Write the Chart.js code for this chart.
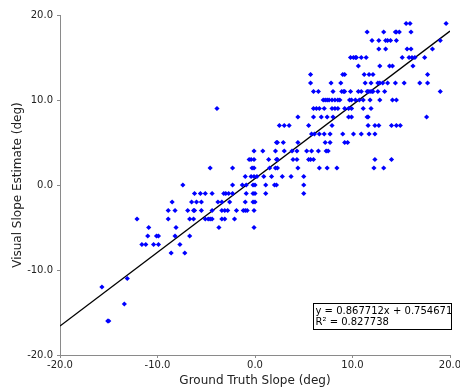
<!DOCTYPE html>
<html lang="en">
<head>
<meta charset="UTF-8">
<title>Visual Slope Estimate vs Ground Truth</title>
<script src="https://cdn.jsdelivr.net/npm/chart.js@4"></script>
<style>
  html, body { margin: 0; padding: 0; background: #fff; }
  #wrap { width: 460px; height: 390px; position: relative; }
</style>
</head>
<body>
<div id="wrap"><canvas id="scatter"></canvas></div>
<script>
// visual estimate levels (deg) and the ground truth slopes seen at each level
const estimateLevels = [19, 18, 17, 16, 15, 14, 13, 12, 11, 10, 9, 8, 7, 6, 5, 4, 3, 2, 1, 0,
                        -1, -2, -3, -4, -5, -6, -7, -8, -11, -12, -14, -16];
const truthAtLevel = [
  [15.5, 15.9, 19.6],
  [11.5, 13.2, 14.4, 14.5, 14.8, 16.0],
  [12.0, 12.7, 13.4, 13.6, 13.9, 14.5, 19.0],
  [12.7, 13.4, 15.6, 16.0, 18.2],
  [9.8, 10.1, 10.3, 10.4, 10.9, 11.4, 15.1, 15.8, 16.1, 16.4, 17.4],
  [10.6, 12.8, 13.8, 14.1, 16.2],
  [5.7, 9.0, 9.2, 11.2, 11.7, 12.1, 17.7],
  [5.7, 7.8, 8.8, 11.3, 11.9, 12.6, 12.8, 13.1, 13.6, 14.4, 15.3, 16.9, 17.7],
  [6.0, 6.5, 8.0, 8.9, 9.1, 9.2, 9.8, 10.6, 10.9, 11.5, 11.6, 11.8, 12.0, 12.1, 12.6, 13.3, 19.0],
  [7.0, 7.2, 7.4, 7.6, 7.9, 8.2, 8.5, 8.7, 9.7, 9.9, 10.3, 10.7, 11.1, 11.8, 12.8, 14.1, 14.5],
  [-3.9, 6.0, 6.3, 6.6, 7.1, 7.9, 8.2, 8.5, 9.2, 9.6, 9.9, 11.1, 11.9],
  [4.4, 6.0, 6.8, 7.4, 8.0, 9.6, 9.9, 11.5, 11.6, 17.6],
  [2.5, 3.0, 3.5, 5.5, 7.9, 11.6, 12.3, 12.7, 14.0, 14.5, 14.9],
  [5.8, 6.1, 6.6, 7.1, 7.7, 9.0, 10.1, 10.9, 11.7, 12.3],
  [2.2, 2.3, 2.9, 4.4, 7.2, 7.7, 9.2, 9.5],
  [-0.1, 0.8, 2.1, 3.0, 3.8, 4.3, 5.3, 5.8, 6.5, 7.3, 7.5],
  [-0.6, -0.4, -0.1, 1.4, 2.2, 2.3, 3.9, 4.3, 5.5, 5.7, 6.0, 12.3, 14.0],
  [-4.6, -2.3, -0.3, -0.1, 1.5, 2.1, 2.3, 4.4, 6.6, 7.4, 8.4, 12.2, 13.2],
  [-1.0, -0.4, -0.1, 0.2, 0.9, 1.7, 2.8, 3.7, 5.0],
  [-7.4, -2.3, -1.3, -0.9, -0.2, 0.0, 1.1, 2.0, 2.2, 5.0],
  [-6.2, -5.6, -5.1, -4.4, -3.2, -3.0, -2.7, -2.3, -0.9, -0.2, 0.0, 1.1, 5.0],
  [-8.5, -6.5, -6.0, -5.5, -3.8, -3.4, -2.6, -1.0, -0.2, 0.0],
  [-8.9, -8.2, -6.9, -6.3, -6.2, -5.5, -4.4, -3.4, -3.1, -2.8, -1.9, -1.2, -1.0, -0.8, -0.1],
  [-12.1, -8.9, -6.7, -6.3, -5.1, -4.8, -4.6, -4.4, -3.4, -3.1, -2.1],
  [-10.9, -8.1, -3.7, -0.1],
  [-11.0, -10.1, -9.9, -8.2, -6.7],
  [-11.6, -11.2, -10.4, -9.9, -7.7],
  [-8.6, -7.2],
  [-13.1],
  [-15.7],
  [-13.4],
  [-15.1, -15.0]
];

// least squares fit shown in the box
const fitSlope = 0.867712;
const fitIntercept = 0.754671;
const fitR2 = 0.827738;
const axisTicks = [-20, -10, 0, 10, 20];

let points = [];
for (let i = 0; i < estimateLevels.length; i++) {
  for (let j = 0; j < truthAtLevel[i].length; j++) {
    points.push({x: truthAtLevel[i][j], y: estimateLevels[i]});
  }
}

const xMin = axisTicks[0], xMax = axisTicks[axisTicks.length - 1];
const fitLine = [
  {x: xMin, y: fitSlope * xMin + fitIntercept},
  {x: xMax, y: fitSlope * xMax + fitIntercept}
];

const axisGray = '#8a8a8a';
const textColor = '#222';
const font = 'DejaVu Sans';

// equation box in the lower right corner
const fitBox = {
  id: 'fitBox',
  afterDraw(chart) {
    const ctx = chart.ctx;
    const a = chart.chartArea;
    const w = 138, h = 26;
    const left = a.right - w + 1.5, top = a.bottom - 52 + 0.5;
    ctx.save();
    ctx.fillStyle = '#fff';
    ctx.fillRect(left, top, w, h);
    ctx.strokeStyle = '#000';
    ctx.lineWidth = 1;
    ctx.strokeRect(left, top, w, h);
    ctx.fillStyle = '#000';
    ctx.font = '10px "' + font + '"';
    ctx.textBaseline = 'middle';
    ctx.textAlign = 'left';
    ctx.fillText('y = ' + fitSlope.toFixed(6) + 'x + ' + fitIntercept.toFixed(6), left + 2, top + 8);
    ctx.fillText('R\u00B2 = ' + fitR2.toFixed(6), left + 2, top + 19);
    ctx.restore();
  }
};

function fixedTicks(scale) {
  scale.ticks = axisTicks.map(v => ({value: v}));
}

new Chart(document.getElementById('scatter'), {
  type: 'scatter',
  data: {
    datasets: [{
      label: 'samples',
      data: points,
      pointStyle: 'rectRot',
      pointRadius: 2.6,
      pointHoverRadius: 2.6,
      backgroundColor: '#0000ff',
      borderColor: '#0000ff',
      borderWidth: 0
    }, {
      type: 'line',
      label: 'fit',
      data: fitLine,
      borderColor: '#000',
      borderWidth: 1.3,
      pointRadius: 0,
      fill: false
    }]
  },
  options: {
    responsive: true,
    maintainAspectRatio: false,
    animation: false,
    devicePixelRatio: 1,
    layout: {padding: {top: 15, right: 10, left: 0, bottom: 0}},
    plugins: {legend: {display: false}, tooltip: {enabled: false}},
    scales: {
      x: {
        type: 'linear',
        min: -20, max: 20,
        afterBuildTicks: fixedTicks,
        afterFit(scale) { scale.height = 35; scale.paddingLeft = 0; scale.paddingRight = 0; },
        grid: {drawOnChartArea: false, drawTicks: true, tickLength: 3, color: axisGray},
        border: {display: true, color: axisGray, width: 1},
        ticks: {
          padding: 1, maxRotation: 0, autoSkip: false, color: textColor,
          font: {family: font, size: 10},
          callback: v => v.toFixed(1)
        },
        title: {display: true, text: 'Ground Truth Slope (deg)', color: textColor,
                font: {family: font, size: 12}, padding: {top: 0, bottom: 2}}
      },
      y: {
        type: 'linear',
        min: -20, max: 20,
        afterBuildTicks: fixedTicks,
        afterFit(scale) { scale.width = 60; scale.paddingTop = 0; scale.paddingBottom = 0; },
        grid: {drawOnChartArea: false, drawTicks: true, tickLength: 3, color: axisGray},
        border: {display: true, color: axisGray, width: 1},
        ticks: {
          padding: 4, autoSkip: false, color: textColor,
          font: {family: font, size: 10},
          callback: v => v.toFixed(1)
        },
        title: {display: true, text: 'Visual Slope Estimate (deg)', color: textColor,
                font: {family: font, size: 12}, padding: {top: 11, bottom: 0}}
      }
    }
  },
  plugins: [fitBox]
});
</script>
</body>
</html>
